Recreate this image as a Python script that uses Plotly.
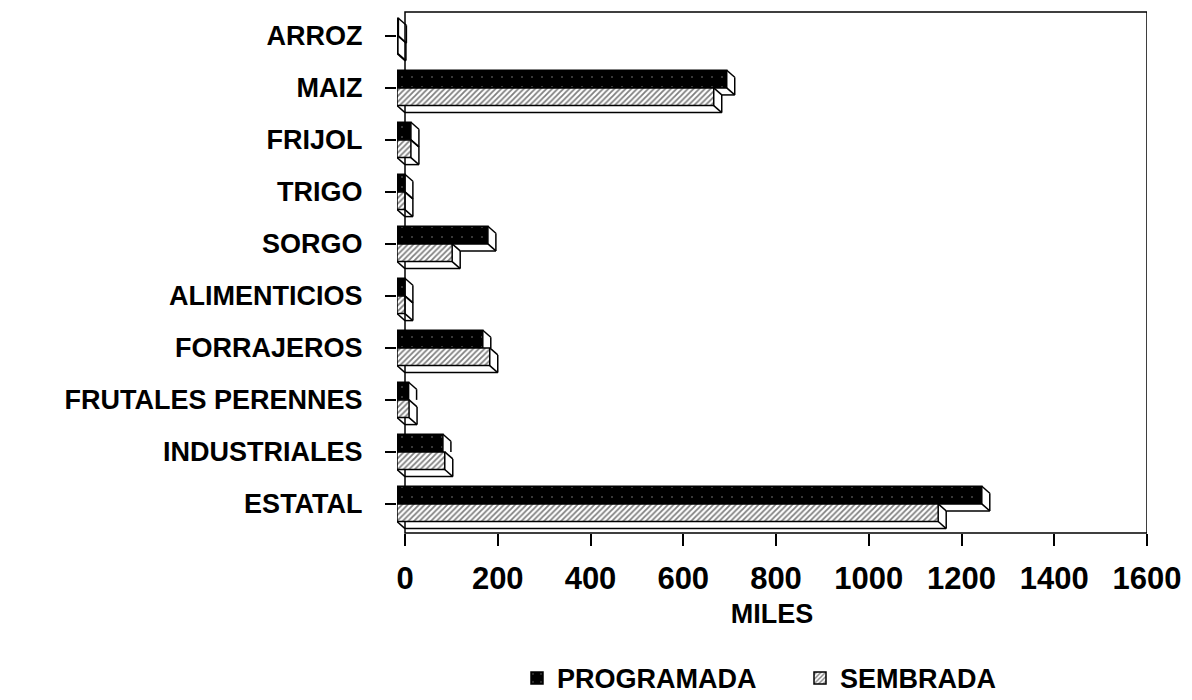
import plotly.graph_objects as go

# ---- data (thousands) ----
categories = ["ARROZ", "MAIZ", "FRIJOL", "TRIGO", "SORGO", "ALIMENTICIOS",
              "FORRAJEROS", "FRUTALES PERENNES", "INDUSTRIALES", "ESTATAL"]
programada = [3, 711, 30, 17, 196, 17, 185, 25, 99, 1261]
sembrada = [2, 683, 30, 17, 119, 17, 200, 26, 103, 1167]
x_ticks = [0, 200, 400, 600, 800, 1000, 1200, 1400, 1600]
series_names = ["PROGRAMADA", "SEMBRADA"]
axis_title = "MILES"

# ---- 3-D look parameters ----
DX = 17.25   # depth shift along x (data units)
DY = 0.135   # depth shift along y (category units)
H = 0.34     # bar thickness (category units)

FONT = "Liberation Sans"
pos = list(range(len(categories)))

fig = go.Figure()

# front faces
fig.add_trace(go.Bar(
    orientation="h", y=pos, x=programada, base=-DX, width=H, offset=-H,
    name=series_names[0],
    marker=dict(color="black", line=dict(color="black", width=1.5),
                pattern=dict(shape=".", fgcolor="white", bgcolor="black",
                             size=10, solidity=0.02)),
    hoverinfo="x+y",
))
fig.add_trace(go.Bar(
    orientation="h", y=pos, x=sembrada, base=-DX, width=H, offset=0,
    name=series_names[1],
    marker=dict(color="white", line=dict(color="black", width=1.5),
                pattern=dict(shape="/", fgcolor="black", bgcolor="white",
                             size=4, solidity=0.45)),
    hoverinfo="x+y",
))

# depth edges, derived from the values
ex, ey = [], []


def seg(x0, y0, x1, y1):
    ex.extend([x0, x1, None])
    ey.extend([y0, y1, None])


for c, vp, vs in zip(pos, programada, sembrada):
    # programada block
    seg(vp - DX, c - H, vp, c - H + DY)
    if vs <= vp:
        seg(vp, c - H + DY, vp, c + DY)
        seg(vp - DX, c, vp, c + DY)
        seg(vs, c + DY, vp, c + DY)
    else:
        seg(vp, c - H + DY, vp, c)
    # sembrada block
    seg(vs - DX, c, vs, c + DY)
    seg(vs, c + DY, vs, c + H + DY)
    seg(vs - DX, c + H, vs, c + H + DY)
    seg(0, c + H + DY, vs, c + H + DY)
    seg(-DX, c + H, 0, c + H + DY)

fig.add_trace(go.Scatter(
    x=ex, y=ey, mode="lines", line=dict(color="black", width=1.5),
    showlegend=False, hoverinfo="skip",
))

# frame (top, right, bottom and the value-axis origin line)
fig.add_shape(type="rect", xref="x", yref="paper", x0=0, x1=x_ticks[-1],
              y0=0, y1=1, line=dict(color="black", width=1.5), layer="below")

fig.update_layout(
    width=1184, height=692,
    margin=dict(l=389, r=45, t=4, b=167, autoexpand=False),
    paper_bgcolor="white", plot_bgcolor="white",
    barmode="overlay",
    font=dict(family=FONT, color="black"),
    showlegend=True,
    legend=dict(orientation="h", x=0.16, xanchor="left", y=-0.279,
                yanchor="middle", font=dict(size=27, family=FONT, weight="bold"),
                traceorder="normal", entrywidthmode="pixels", entrywidth=238,
                tracegroupgap=0, borderwidth=0),
    xaxis=dict(range=[-DX, x_ticks[-1]], tickvals=x_ticks,
               ticktext=[str(t) for t in x_ticks], automargin=False,
               showgrid=False, zeroline=False, showline=False,
               ticks="outside", ticklen=12, tickwidth=1.5, tickcolor="black",
               ticklabelstandoff=6,
               tickfont=dict(size=31, family=FONT, weight="bold"),
               title=dict(text=axis_title, standoff=8,
                          font=dict(size=27, family=FONT, weight="bold"))),
    yaxis=dict(range=[len(categories) - 1 + 0.56, -0.46], tickvals=pos,
               ticktext=categories, showgrid=False, zeroline=False,
               automargin=False,
               showline=False, ticks="outside", ticklen=11, tickwidth=1.5,
               tickcolor="black", ticklabelstandoff=17,
               tickfont=dict(size=27, family=FONT, weight="bold")),
)

fig.write_html("out.html")
